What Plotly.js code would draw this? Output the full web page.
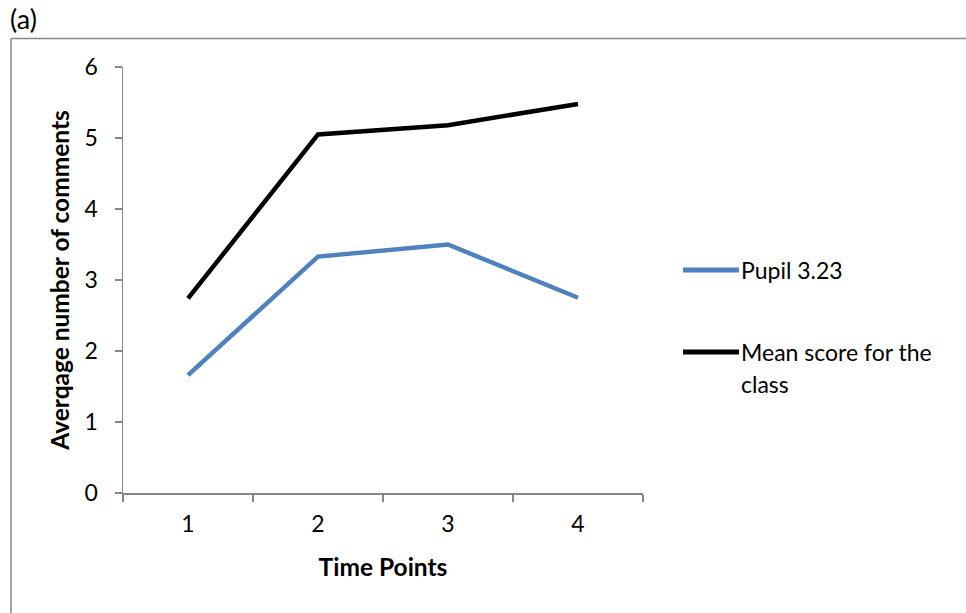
<!DOCTYPE html>
<html>
<head>
<meta charset="utf-8">
<script src="https://cdn.plot.ly/plotly-3.0.1.min.js"></script>
<style>html,body{margin:0;padding:0;background:#fff;}#chart{width:966px;height:613px;}</style>
</head>
<body>
<div id="chart"></div>
<script>
const categories = ["1", "2", "3", "4"];
const pupilValues = [1.66, 3.33, 3.50, 2.75];
const classMeanValues = [2.74, 5.05, 5.18, 5.48];
const yTicks = [0, 1, 2, 3, 4, 5, 6];
const seriesNames = ["Pupil 3.23", "Mean score for the", "class"];

const FONT = "Lato, 'Open Sans', sans-serif";
const GRAY = "#868686";
const BLUE = "#4F81BD";
const FS = 23;
const TFS = 24.5;

const traces = [
  {x: categories, y: pupilValues, type: "scatter", mode: "lines", name: seriesNames[0],
   line: {color: BLUE, width: 4.5}, showlegend: false},
  {x: categories, y: classMeanValues, type: "scatter", mode: "lines", name: seriesNames[1] + " " + seriesNames[2],
   line: {color: "#000000", width: 4.5}, showlegend: false}
];

// paper coordinate helpers (plot area: x 123..643, y 67..493)
const L = 123, R = 643, T = 67, B = 493;
const px = v => (v - L) / (R - L);
const py = v => (B - v) / (B - T);

const layout = {
  width: 966, height: 613,
  margin: {l: L, r: 966 - R, t: T, b: 613 - B},
  paper_bgcolor: "#fff", plot_bgcolor: "#fff",
  font: {family: FONT, size: FS, color: "#000"},
  showlegend: false,
  xaxis: {
    type: "category", tickson: "boundaries", range: [-0.5, 3.5],
    showline: true, linecolor: GRAY, linewidth: 1.5,
    ticks: "outside", ticklen: 7, tickcolor: GRAY, tickwidth: 1.5,
    showgrid: false, zeroline: false, ticklabelstandoff: 10,
    tickfont: {family: FONT, size: FS, color: "#000"},
    title: {text: "<b>Time Points</b>", font: {family: FONT, size: TFS, color: "#000"}, standoff: 23}
  },
  yaxis: {
    range: [0, 6], tickvals: yTicks,
    showline: true, linecolor: GRAY, linewidth: 1.5,
    ticks: "outside", ticklen: 7, tickcolor: GRAY, tickwidth: 1.5,
    showgrid: false, zeroline: false, ticklabelstandoff: 12,
    tickfont: {family: FONT, size: FS, color: "#000"},
    title: {text: "<b>Averqage number of comments</b>", font: {family: FONT, size: TFS, color: "#000"}, standoff: 8}
  },
  shapes: [
    {type: "line", xref: "paper", yref: "paper", x0: px(11), x1: px(11), y0: py(38.5), y1: py(640), line: {color: GRAY, width: 1.5}},
    {type: "line", xref: "paper", yref: "paper", x0: px(11), x1: px(1000), y0: py(38.5), y1: py(38.5), line: {color: GRAY, width: 1.5}},
    {type: "line", xref: "paper", yref: "paper", x0: px(683), x1: px(739), y0: py(270), y1: py(270), line: {color: BLUE, width: 5}},
    {type: "line", xref: "paper", yref: "paper", x0: px(683), x1: px(739), y0: py(352), y1: py(352), line: {color: "#000", width: 5}}
  ],
  annotations: [
    {xref: "paper", yref: "paper", x: px(8), y: py(19), xanchor: "left", yanchor: "middle", showarrow: false, text: "(a)", font: {family: FONT, size: 27}},
    {xref: "paper", yref: "paper", x: px(739), y: py(270), xanchor: "left", yanchor: "middle", showarrow: false, text: seriesNames[0], font: {family: FONT, size: FS}},
    {xref: "paper", yref: "paper", x: px(739), y: py(352), xanchor: "left", yanchor: "middle", showarrow: false, text: seriesNames[1], font: {family: FONT, size: FS}},
    {xref: "paper", yref: "paper", x: px(739), y: py(384), xanchor: "left", yanchor: "middle", showarrow: false, text: seriesNames[2], font: {family: FONT, size: FS}}
  ]
};

Plotly.newPlot("chart", traces, layout, {displayModeBar: false, staticPlot: true});
</script>
</body>
</html>
